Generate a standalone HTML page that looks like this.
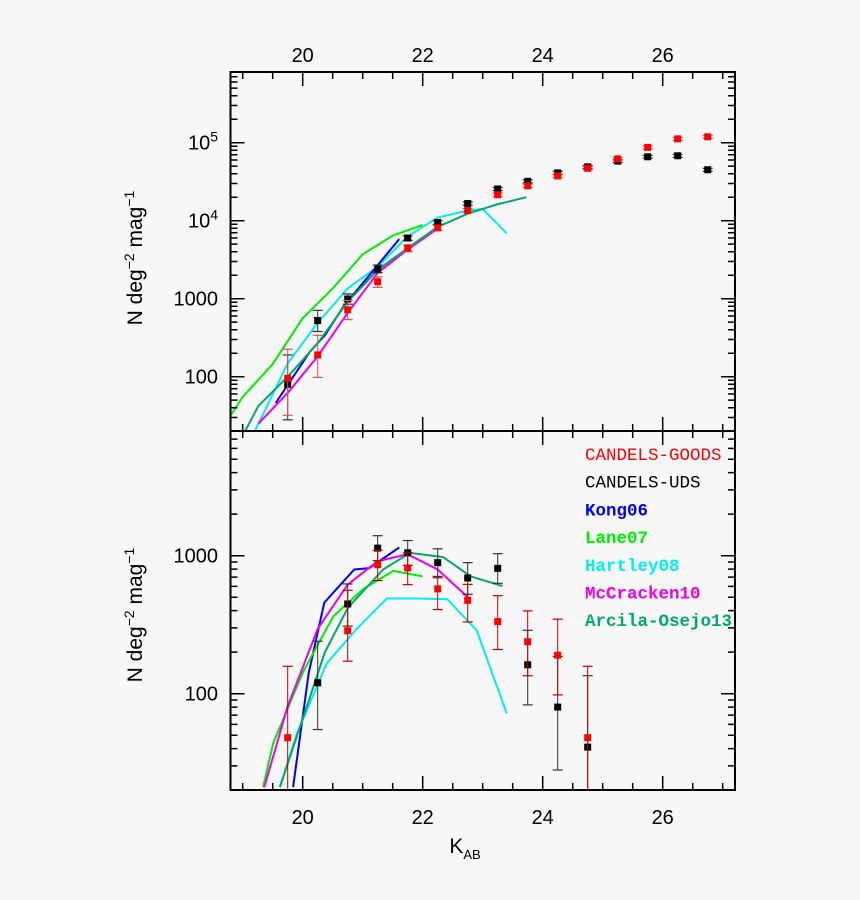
<!DOCTYPE html>
<html><head><meta charset="utf-8"><style>
html,body{margin:0;padding:0;background:#f7f7f7;}
svg{display:block;font-family:"Liberation Sans",sans-serif;}
</style></head><body>
<svg id="chart" width="860" height="900" viewBox="0 0 860 900" xmlns="http://www.w3.org/2000/svg">
<defs></defs>
<rect x="0" y="0" width="860" height="900" fill="#f7f7f7"/>
<g id="topPanel"></g>
<g id="botPanel"></g>
<g id="axes"></g>
<g id="legend"></g>
</svg>
<script>
// ---- data ----
const binX = [19.75,20.25,20.75,21.25,21.75,22.25,22.75,23.25,23.75,24.25,24.75,25.25,25.75,26.25,26.75];
const udsTop = [80,525,990,2400,6000,9500,16600,25500,32000,41000,49000,58000,66000,68000,45000];
const udsTopLo = [28,380,850,2150,5600,9000,15800,24300,30500,39000,46800,55500,63500,65000,43000];
const udsTopHi = [190,710,1150,2700,6400,10000,17400,26700,33500,43000,51200,60500,68500,71000,47000];
const goodsTop = [95,190,720,1650,4450,8100,13500,21500,28000,37500,47000,62000,87000,112000,119000];
const goodsTopLo = [32,98,540,1400,4000,7500,12700,20300,26500,35500,44500,59000,83000,107000,114000];
const goodsTopHi = [225,340,950,1900,4900,8700,14300,22700,29500,39500,49500,65000,91000,117000,124000];

const binXB = [19.75,20.25,20.75,21.25,21.75,22.25,22.75,23.25,23.75,24.25,24.75];
const udsBot = [null,120,447,1135,1050,890,690,810,162,80,41];
const udsBotLo = [null,55,309,922,851,692,525,631,83,28,10];
const udsBotHi = [null,240,624,1396,1288,1122,891,1035,288,186,135];
const goodsBot = [48,null,286,860,815,575,475,333,238,190,48];
const goodsBotLo = [10,null,172,661,617,407,331,209,135,98,10];
const goodsBotHi = [158,null,562,1096,1047,708,620,513,398,347,158];

const kongX = [19.55,20.12,20.37,20.68,21.23,21.61];
const kongY = [46,209,339,794,2570,5820];
const laneX = [18.75,19.0,19.5,20.0,20.5,21.0,21.5,22.0];
const laneY = [28,55,145,560,1350,3700,6450,8800];
const hartX = [19.2,19.4,19.75,20.25,20.75,21.25,21.75,22.25,22.75,23.0,23.4];
const hartY = [20,41,148,490,1350,2570,6300,11000,13500,14100,6900];
const mccX = [19.26,19.75,20.25,20.75,21.25,21.75,22.25];
const mccY = [25,62,182,660,2140,4270,7940];
const arcX = [19.04,19.26,19.75,20.25,20.75,21.25,21.75,22.25,22.75,23.24,23.73];
const arcY = [20,42,100,269,912,2340,4470,8320,12300,16200,20000];

const kongBX = [19.84,20.1,20.36,20.86,21.11,21.61];
const kongBY = [21,141,457,794,813,1148];
const laneBX = [19.34,19.51,20.01,20.51,21.01,21.51,22.0];
const laneBY = [21,44,145,363,575,776,708];
const hartBX = [19.62,19.9,20.4,20.9,21.4,21.9,22.41,22.9,23.4];
const hartBY = [21,51,166,295,490,490,484,288,72];
const mccBX = [19.36,19.75,20.25,20.75,21.25,21.75,22.25,22.75];
const mccBY = [21,81,295,617,912,1023,794,501];
const arcBX = [19.62,20.37,20.75,21.34,21.79,22.34,22.8,23.33];
const arcBY = [21,200,417,794,1047,977,708,603];

const legendNames = ["CANDELS-GOODS","CANDELS-UDS","Kong06","Lane07","Hartley08","McCracken10","Arcila-Osejo13"];
const legendColors = ["#ff0000","#000000","#0000ee","#00ee00","#00eeee","#ee00ee","#00aa66"];
const xTicks = [20,22,24,26];
const topTicks = [2,3,4,5];
const botTicks = [2,3];

// ---- scales ----
const X0=230.5, X1=735, TY0=72, TY1=431, BY0=431, BY1=790;
const xs = v => 302.7 + (v-20)*60;
const yT = v => 376.7 - (Math.log10(v)-2)*78;
const yB = v => 693.7 - (Math.log10(v)-2)*138;
const NS="http://www.w3.org/2000/svg";
function mk(tag, parent, attrs){const e=document.createElementNS(NS,tag);for(const k in attrs)e.setAttribute(k,attrs[k]);parent.appendChild(e);return e;}

const defsEl = document.querySelector('#chart defs');
function clipFor(id,y0,y1){
  const cp = mk('clipPath',defsEl,{id:id});
  mk('rect',cp,{x:X0,y:y0,width:X1-X0,height:y1-y0});
}
clipFor('ct',TY0,TY1); clipFor('cb',BY0,BY1);

function drawPanel(g, ys, clip, lines, pts){
  const cg = mk('g',g,{'clip-path':'url(#'+clip+')'});
  lines.forEach(([xa,ya,col,name])=>{
    const d = xa.map((x,i)=>(i?'L':'M')+xs(x).toFixed(1)+','+ys(ya[i]).toFixed(1)).join('');
    const p = mk('path',cg,{d:d,fill:'none',stroke:col,'stroke-width':2});
    
    
  });
  pts.forEach(([xa,va,lo,hi,col,ecol,name])=>{
    xa.forEach((x,i)=>{
      if(va[i]==null) return;
      const px=xs(x);
      const eg = mk('g',cg,{});
      
      
      const y0=ys(hi[i]), y1=ys(lo[i]);
      mk('line',eg,{x1:px,x2:px,y1:y0,y2:y1,stroke:ecol,'stroke-width':1});
      mk('line',eg,{x1:px-5,x2:px+5,y1:y0,y2:y0,stroke:ecol,'stroke-width':1.2});
      mk('line',eg,{x1:px-5,x2:px+5,y1:y1,y2:y1,stroke:ecol,'stroke-width':1.2});
      mk('rect',eg,{x:px-3.5,y:ys(va[i])-3.5,width:7,height:7,fill:col});
    });
  });
}
const gTop=document.getElementById('topPanel'), gBot=document.getElementById('botPanel');
drawPanel(gTop,yT,'ct',[
  [laneX,laneY,'#00ee00','lane07-line'],[hartX,hartY,'#00eeee','hartley08-line'],
  [kongX,kongY,'#0000ee','kong06-line'],[mccX,mccY,'#ee00ee','mccracken10-line'],
  [arcX,arcY,'#00aa66','arcila-osejo13-line']],
  [[binX,udsTop,udsTopLo,udsTopHi,'#000','#333','uds'],[binX,goodsTop,goodsTopLo,goodsTopHi,'#ff0000','#e05050','goods']]);
drawPanel(gBot,yB,'cb',[
  [kongBX,kongBY,'#0000ee','kong06-line'],[laneBX,laneBY,'#00ee00','lane07-line'],
  [hartBX,hartBY,'#00eeee','hartley08-line'],[mccBX,mccBY,'#ee00ee','mccracken10-line'],
  [arcBX,arcBY,'#00aa66','arcila-osejo13-line']],
  [[binXB,udsBot,udsBotLo,udsBotHi,'#000','#333','uds'],[binXB,goodsBot,goodsBotLo,goodsBotHi,'#ff0000','#c00000','goods']]);

// ---- axes ----
const ax=document.getElementById('axes');
mk('rect',ax,{x:X0,y:TY0,width:X1-X0,height:BY1-TY0,fill:'none',stroke:'#000','stroke-width':2});
mk('line',ax,{x1:X0,x2:X1,y1:TY1,y2:TY1,stroke:'#000','stroke-width':2});
let d='';
for(let k=38;k<=54;k++){
  const v=k/2;
  const px=xs(v); if(px<X0||px>X1) continue;
  const L = (k%4===0)?14:7;
  d+=`M${px},${TY0}v${L}M${px},${BY1}v${-L}`;
  d+=`M${px},${TY1}v${-L}M${px},${TY1}v${L}`;
}
function yticks(ys,y0,y1){
  for(let e=1;e<=6;e++) for(let m=1;m<=9;m++){
    const v=m*Math.pow(10,e); const py=ys(v); if(py<y0||py>y1) continue;
    const L=m===1?14:7;
    d+=`M${X0},${py}h${L}M${X1},${py}h${-L}`;
  }
}
yticks(yT,TY0,TY1); yticks(yB,BY0,BY1);
mk('path',ax,{d:d,stroke:'#000','stroke-width':1.5,fill:'none'});

xTicks.forEach(v=>{
  const t1=mk('text',ax,{x:xs(v),y:62,'text-anchor':'middle','font-size':20});
  t1.textContent=v;
  
  
  const t2=mk('text',ax,{x:xs(v),y:824,'text-anchor':'middle','font-size':20});
  t2.textContent=v;
  
  
});
function ylab(ys,e){
  const py=ys(Math.pow(10,e))+7;
  const t=mk('text',ax,{x:218,y:py,'text-anchor':'end','font-size':20});
  
  
  if(e>=4){
    t.appendChild(document.createTextNode('10'));
    const s=mk('tspan',t,{dy:-8,'font-size':14}); s.textContent=String(e);
  } else t.textContent=String(Math.pow(10,e));
}
topTicks.forEach(e=>ylab(yT,e)); botTicks.forEach(e=>ylab(yB,e));

function ytitle(cy){
  const t=mk('text',ax,{x:0,y:0,'text-anchor':'middle','font-size':21,transform:`translate(142,${cy}) rotate(-90)`});
  
  
  t.appendChild(document.createTextNode('N deg'));
  const a=mk('tspan',t,{dy:-8,'font-size':14}); a.textContent='−2';
  const b=mk('tspan',t,{dy:8}); b.textContent=' mag';
  const c=mk('tspan',t,{dy:-8,'font-size':14}); c.textContent='−1';
}
ytitle(258); ytitle(615);
const xt=mk('text',ax,{x:465,y:853,'text-anchor':'middle','font-size':21});


xt.appendChild(document.createTextNode('K'));
const xsub=mk('tspan',xt,{dy:6,'font-size':13}); xsub.textContent='AB';

// ---- legend ----
const lg=document.getElementById('legend');
legendNames.forEach((n,i)=>{
  const t=mk('text',lg,{x:585,y:460+i*27.7,fill:legendColors[i],'font-size':17.5,'font-family':'"Liberation Mono",monospace','font-weight':i>=2?'bold':'normal'});
  t.textContent=n;
  
  
});
</script>
</body></html>
